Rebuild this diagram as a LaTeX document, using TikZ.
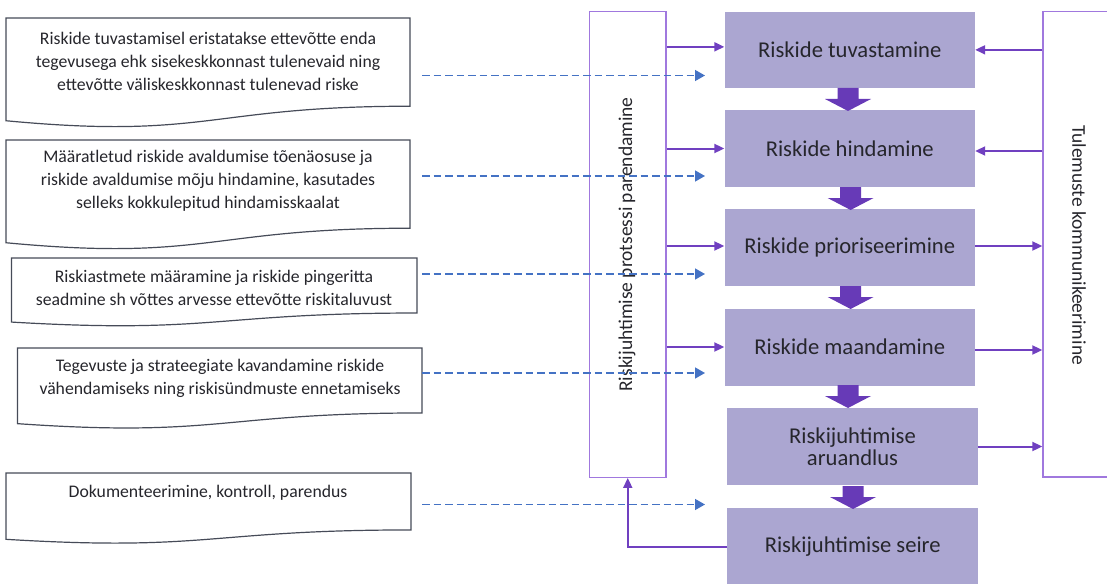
\documentclass[tikz,border=0pt]{standalone}
\usepackage{fontspec}
\setmainfont{Carlito}
\usetikzlibrary{arrows.meta,calc}
\definecolor{boxfill}{RGB}{171,166,209}
\definecolor{barrcol}{RGB}{103,58,183}
\definecolor{plinecol}{RGB}{112,64,192}
\definecolor{vboxcol}{RGB}{160,120,222}
\definecolor{dashcol}{RGB}{68,114,196}
\definecolor{doccol}{RGB}{70,75,88}
\definecolor{txtcol}{RGB}{38,38,44}
\newcommand\docshape[4]{% L R T H
  \draw[docline] (#1,#3) -- (#2,#3) -- (#2,{#3+0.802*#4})
    .. controls ({(#1+#2)/2},{#3+0.802*#4}) and ({(#1+#2)/2},{#3+1.1075*#4}) ..
    (#1,{#3+0.934*#4}) -- cycle;}
\newcommand\blockarr[2]{% center x, top y
  \fill[barrcol] ({#1-10.5},#2) -- ({#1+10.5},#2) -- ({#1+10.5},{#2+11}) -- ({#1+23},{#2+11})
    -- (#1,{#2+23}) -- ({#1-23},{#2+11}) -- ({#1-10.5},{#2+11}) -- cycle;}
\begin{document}
\begin{tikzpicture}[x=1pt,y=-1pt,
  docline/.style={draw=doccol,line width=1.2pt,fill=white},
  doctext/.style={align=center,text=txtcol,font=\fontsize{17.7}{23}\selectfont,inner sep=0pt},
  pbox/.style={rectangle,fill=boxfill,draw=none,minimum width=250.5pt,minimum height=77pt,
    inner sep=0pt,align=center,text=txtcol,font=\fontsize{22.6}{22.5}\selectfont},
  vbox/.style={rectangle,draw=vboxcol,line width=1.4pt,inner sep=0pt},
  vtext/.style={text=txtcol,font=\fontsize{19.5}{22}\selectfont,inner sep=0pt},
  parr/.style={draw=plinecol,line width=2pt,-{Triangle[length=10pt,width=9pt]}},
  darr/.style={draw=dashcol,line width=1.4pt,dash pattern=on 7.5pt off 4pt,-{Triangle[length=10pt,width=11pt]}}]
\useasboundingbox (0,0) rectangle (1107,583);
\clip (0,0) rectangle (1107,583);

% document shapes
\docshape{6}{410}{18}{110}
\docshape{6}{410}{140}{110}
\docshape{11.5}{417}{258}{68.6}
\docshape{17.5}{422}{348}{81}
\docshape{6}{411}{473}{71}

\node[doctext] (t1) at (208,61) {Riskide tuvastamisel eristatakse ettevõtte enda\\tegevusega ehk sisekeskkonnast tulenevaid ning\\ettevõtte väliskeskkonnast tulenevad riske};
\node[doctext] (t2) at (208,181) {Määratletud riskide avaldumise tõenäosuse ja\\riskide avaldumise mõju hindamine, kasutades\\selleks kokkulepitud hindamisskaalat};
\node[doctext] (t3) at (214,288) {Riskiastmete määramine ja riskide pingeritta\\seadmine sh võttes arvesse ettevõtte riskitaluvust};
\node[doctext] (t4) at (220,378) {Tegevuste ja strateegiate kavandamine riskide\\vähendamiseks ning riskisündmuste ennetamiseks};
\node[doctext] (t5) at (208,493) {Dokumenteerimine, kontroll, parendus};

% side boxes
\node[vbox,minimum width=76.5pt,minimum height=465.5pt] (lb) at (627.75,244.5) {};
\node[vtext,rotate=90] (lbt) at (627,244.5) {Riskijuhtimise protsessi parendamine};
\node[vbox,minimum width=69pt,minimum height=465.5pt] (rb) at (1077.5,244.25) {};
\node[vtext,rotate=-90] (rbt) at (1079,245) {Tulemuste kommunikeerimine};

% process boxes
\node[pbox,minimum height=76.3pt] (b1) at (849.75,49.85) {Riskide tuvastamine};
\node[pbox] (b2) at (849.75,148.5) {Riskide hindamine};
\node[pbox] (b3) at (849.75,247.5) {Riskide prioriseerimine};
\node[pbox] (b4) at (849.75,347) {Riskide maandamine};
\node[pbox] (b5) at (852.5,446.5) {Riskijuhtimise\\aruandlus};
\node[pbox] (b6) at (852.7,546.5) {Riskijuhtimise seire};

% block arrows
\blockarr{848}{88}
\blockarr{850.6}{187}
\blockarr{850.6}{286}
\blockarr{848}{385}
\blockarr{853}{486}

% purple connectors
\coordinate (l1) at ([yshift=3pt]b1.west);
\coordinate (l2) at (b2.west);
\coordinate (l3) at ([yshift=1.5pt]b3.west);
\coordinate (l4) at (b4.west);
\draw[parr] (lb.east |- l1) -- (l1);
\draw[parr] (lb.east |- l2) -- (l2);
\draw[parr] (lb.east |- l3) -- (l3);
\draw[parr] (lb.east |- l4) -- (l4);
\coordinate (r1) at (b1.east);
\coordinate (r2) at ([yshift=-2.5pt]b2.east);
\coordinate (r3) at ([yshift=1.5pt]b3.east);
\coordinate (r4) at ([yshift=-3pt]b4.east);
\coordinate (r5) at (b5.east);
\draw[parr] (rb.west |- r1) -- (r1);
\draw[parr] (rb.west |- r2) -- (r2);
\draw[parr] (r3) -- (rb.west |- r3);
\draw[parr] (r4) -- (rb.west |- r4);
\draw[parr] (r5) -- (rb.west |- r5);
\draw[parr] (b6.west) -| (lb.south);

% dashed arrows
\coordinate (ds1) at (422,75.5);  \coordinate (de1) at (705,75.5);
\coordinate (ds2) at (422,176);   \coordinate (de2) at (705,176);
\coordinate (ds3) at (422,274);   \coordinate (de3) at (705,274);
\coordinate (ds4) at (422,373);   \coordinate (de4) at (705,373);
\coordinate (ds5) at (422,504.5); \coordinate (de5) at (705,504.5);
\draw[darr] (ds1) -- (de1);
\draw[darr] (ds2) -- (de2);
\draw[darr] (ds3) -- (de3);
\draw[darr] (ds4) -- (de4);
\draw[darr] (ds5) -- (de5);
\end{tikzpicture}
\end{document}
